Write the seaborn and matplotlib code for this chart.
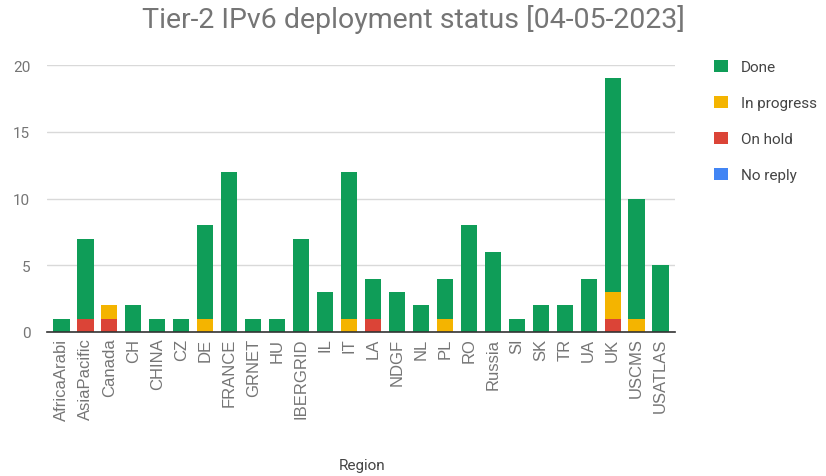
import matplotlib
matplotlib.use("Agg")
import matplotlib.pyplot as plt
import seaborn as sns
import pandas as pd
import numpy as np
from matplotlib.patches import Patch

regions = ["AfricaArabi", "AsiaPacific", "Canada", "CH", "CHINA", "CZ", "DE", "FRANCE",
           "GRNET", "HU", "IBERGRID", "IL", "IT", "LA", "NDGF", "NL", "PL", "RO",
           "Russia", "SI", "SK", "TR", "UA", "UK", "USCMS", "USATLAS"]
done =        [1, 6, 0, 2, 1, 1, 7, 12, 1, 1, 7, 3, 11, 3, 3, 2, 3, 8, 6, 1, 2, 2, 4, 16, 9, 5]
in_progress = [0, 0, 1, 0, 0, 0, 1, 0, 0, 0, 0, 0, 1, 0, 0, 0, 1, 0, 0, 0, 0, 0, 0, 2, 1, 0]
on_hold =     [0, 1, 1, 0, 0, 0, 0, 0, 0, 0, 0, 0, 0, 1, 0, 0, 0, 0, 0, 0, 0, 0, 0, 1, 0, 0]
no_reply =    [0] * 26

series_names = ["Done", "In progress", "On hold", "No reply"]
colors = {"Done": "#0F9D58", "In progress": "#F4B400", "On hold": "#DB4437", "No reply": "#4285F4"}

df = pd.DataFrame({"Region": regions, "Done": done, "In progress": in_progress,
                   "On hold": on_hold, "No reply": no_reply})
# stacking order bottom -> top: No reply, On hold, In progress, Done
df["top_nr"] = df["No reply"]
df["top_oh"] = df["top_nr"] + df["On hold"]
df["top_ip"] = df["top_oh"] + df["In progress"]
df["top_done"] = df["top_ip"] + df["Done"]

sns.set_theme(style="white")
plt.rcParams["font.family"] = ["Roboto", "DejaVu Sans"]

fig = plt.figure(figsize=(8.26, 4.77), dpi=100)
ax = fig.add_axes([47/826, 1-333/477, (675-47)/826, (333-66)/477])

for col, name in [("top_done", "Done"), ("top_ip", "In progress"),
                  ("top_oh", "On hold"), ("top_nr", "No reply")]:
    sns.barplot(data=df, x="Region", y=col, color=colors[name], ax=ax,
                width=0.68, saturation=1, linewidth=0, order=regions)

ax.set_ylim(0, 20)
ax.set_xlim(-0.6, 25.6)
ax.set_yticks([0, 5, 10, 15, 20])
ax.yaxis.grid(True, color="#d9d9d9", linewidth=1)
ax.set_axisbelow(True)
for s in ["top", "right", "left"]:
    ax.spines[s].set_visible(False)
ax.spines["bottom"].set_color("#333333")
ax.spines["bottom"].set_linewidth(1.2)
ax.set_xlabel("")
ax.set_ylabel("")
ax.tick_params(axis="y", length=0, labelsize=11, labelcolor="#757575", pad=12)
ax.tick_params(axis="x", length=0, pad=4)
ax.set_xticks(range(len(regions)))
ax.set_xticklabels(regions, rotation=90, fontsize=12, color="#757575",
                   family=["Liberation Sans", "DejaVu Sans"])

fig.text(0.5, 1-19/477, "Tier-2 IPv6 deployment status [04-05-2023]",
         ha="center", va="center", fontsize=20.5, color="#757575")
fig.text(362/826, 1-459/477, "Region", ha="center", va="top", fontsize=11, color="#444444")

handles = [Patch(facecolor=colors[n], edgecolor="none") for n in series_names]
leg = fig.legend(handles, series_names, loc="upper left", bbox_to_anchor=(700/826, 1-47/477),
                 frameon=False, fontsize=11, handlelength=0.9, handleheight=0.9,
                 labelspacing=1.4, handletextpad=0.9)
for t in leg.get_texts():
    t.set_color("#444444")

fig.savefig("out.png", dpi=100)
